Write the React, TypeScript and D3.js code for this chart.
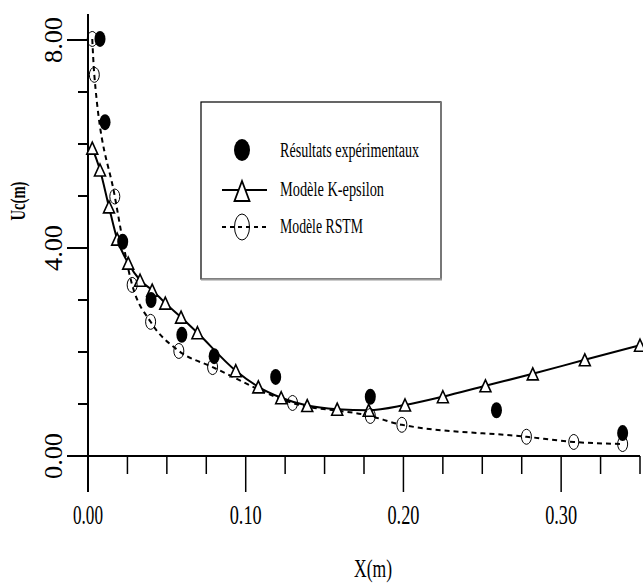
import React from "react";
import * as d3 from "d3";

const expX = [0.0076, 0.0108, 0.022, 0.040, 0.0595, 0.080, 0.119, 0.179, 0.259, 0.339];
const expY = [8.02, 6.42, 4.12, 3.0, 2.33, 1.92, 1.52, 1.14, 0.88, 0.44];

const kX = [0.0027, 0.0076, 0.0133, 0.0185, 0.0255, 0.033, 0.0407, 0.049, 0.059, 0.0694, 0.0937, 0.108, 0.1225, 0.139, 0.158, 0.178, 0.201, 0.225, 0.252, 0.282, 0.315, 0.350];
const kY = [5.92, 5.5, 4.79, 4.17, 3.71, 3.38, 3.19, 2.94, 2.67, 2.37, 1.64, 1.33, 1.12, 0.97, 0.9, 0.88, 0.98, 1.14, 1.35, 1.58, 1.85, 2.13];

const rX = [0.0027, 0.004, 0.017, 0.028, 0.0397, 0.0576, 0.079, 0.1297, 0.179, 0.199, 0.278, 0.308, 0.339];
const rY = [8.02, 7.33, 4.99, 3.29, 2.58, 2.02, 1.71, 1.02, 0.77, 0.6, 0.37, 0.27, 0.23];

const xMajorTicks = [0, 0.1, 0.2, 0.3];
const xTickLabels = ["0.00", "0.10", "0.20", "0.30"];
const yMajorTicks = [0, 4, 8];
const yTickLabels = ["0.00", "4.00", "8.00"];

const legendLabels = ["Résultats expérimentaux", "Modèle K-epsilon", "Modèle RSTM"];
const xTitle = "X(m)";
const yTitle = "Uc(m)";

const FONT = "'Liberation Serif', 'Times New Roman', serif";

export default function App() {
  const x = d3.scaleLinear().domain([0, 0.35]).range([88, 640]);
  const y = d3.scaleLinear().domain([0, 8.5]).range([456, 14]);

  const xMinor = d3.range(0, 0.3501, 0.025);
  const yMinor = d3.range(0, 8.001, 1);

  const kData = kX.map((v, i) => [v, kY[i]] as [number, number]);
  const rData = rX.map((v, i) => [v, rY[i]] as [number, number]);
  const line = d3
    .line<[number, number]>()
    .x((d) => x(d[0]))
    .y((d) => y(d[1]))
    .curve(d3.curveMonotoneX);

  const tri = (cx: number, cy: number, w: number, h: number) =>
    `M${cx},${cy - h / 2}L${cx + w / 2},${cy + h / 2}L${cx - w / 2},${cy + h / 2}Z`;

  const xLabelLen = [30, 32, 32, 32];

  return (
    <svg
      width={643}
      height={583}
      style={{ position: "absolute", left: 0, top: 0, background: "#fff" }}
    >
      <rect x={0} y={0} width={643} height={583} fill="#fff" />
      {/* axes */}
      <line x1={67} x2={640} y1={y(0)} y2={y(0)} stroke="#000" strokeWidth={2} />
      <line x1={x(0)} x2={x(0)} y1={14} y2={492} stroke="#000" strokeWidth={2} />
      {xMinor.map((t, i) => (
        <line
          key={"xm" + i}
          x1={x(t)}
          x2={x(t)}
          y1={y(0)}
          y2={i % 4 === 0 ? 492 : 474}
          stroke="#000"
          strokeWidth={1.5}
        />
      ))}
      {yMinor.map((t, i) => (
        <line
          key={"ym" + i}
          x1={i % 4 === 0 ? 67 : 78}
          x2={x(0)}
          y1={y(t)}
          y2={y(t)}
          stroke="#000"
          strokeWidth={2}
        />
      ))}
      {xMajorTicks.map((t, i) => (
        <text
          key={"xl" + i}
          x={x(t)}
          y={524}
          textAnchor="middle"
          fontFamily={FONT}
          fontSize={27}
          textLength={xLabelLen[i]}
          lengthAdjust="spacingAndGlyphs"
        >
          {xTickLabels[i]}
        </text>
      ))}
      {yMajorTicks.map((t, i) => (
        <text
          key={"yl" + i}
          transform={`translate(62,${y(t)}) rotate(-90)`}
          textAnchor="middle"
          fontFamily={FONT}
          fontSize={25}
          textLength={46}
          lengthAdjust="spacingAndGlyphs"
        >
          {yTickLabels[i]}
        </text>
      ))}
      <text
        transform={`translate(25,201) rotate(-90)`}
        textAnchor="middle"
        fontFamily={FONT}
        fontSize={20}
        fontWeight="bold"
        textLength={39}
        lengthAdjust="spacingAndGlyphs"
      >
        {yTitle}
      </text>
      <text
        x={373}
        y={577}
        textAnchor="middle"
        fontFamily={FONT}
        fontSize={25}
        textLength={38}
        lengthAdjust="spacingAndGlyphs"
      >
        {xTitle}
      </text>

      {/* lines */}
      <path d={line(rData) || ""} fill="none" stroke="#000" strokeWidth={2} strokeDasharray="5,4" />
      <path d={line(kData) || ""} fill="none" stroke="#000" strokeWidth={2} />

      {/* markers */}
      {kData.map((d, i) => (
        <path
          key={"k" + i}
          d={tri(x(d[0]), y(d[1]), 11, 12)}
          fill="#fff"
          stroke="#000"
          strokeWidth={1.6}
        />
      ))}
      {rData.map((d, i) => (
        <ellipse
          key={"r" + i}
          cx={x(d[0])}
          cy={y(d[1])}
          rx={5}
          ry={7.5}
          fill="none"
          stroke="#000"
          strokeWidth={1}
        />
      ))}
      {expX.map((v, i) => (
        <ellipse key={"e" + i} cx={x(v)} cy={y(expY[i])} rx={5.5} ry={8} fill="#000" />
      ))}

      {/* legend */}
      <rect x={201} y={102} width={240} height={177} fill="#fff" stroke="#000" strokeWidth={1.2} />
      <line x1={441} x2={441} y1={102} y2={280} stroke="#777" strokeWidth={2} />
      <line x1={201} x2={442} y1={279.5} y2={279.5} stroke="#999" strokeWidth={2} />
      <ellipse cx={242} cy={150} rx={8} ry={11} fill="#000" />
      <line x1={222} x2={267} y1={190} y2={190} stroke="#000" strokeWidth={2} />
      <path d={tri(242, 191, 15, 20)} fill="#fff" stroke="#000" strokeWidth={1.8} />
      <line x1={222} x2={267} y1={227} y2={227} stroke="#000" strokeWidth={2} strokeDasharray="4,4" />
      <ellipse cx={242} cy={227} rx={7.5} ry={13} fill="none" stroke="#000" strokeWidth={1} />
      {legendLabels.map((s, i) => (
        <text
          key={"lg" + i}
          x={280}
          y={[157, 196, 233][i]}
          fontFamily={FONT}
          fontSize={20}
          textLength={[139, 104, 83][i]}
          lengthAdjust="spacingAndGlyphs"
        >
          {s}
        </text>
      ))}
    </svg>
  );
}
